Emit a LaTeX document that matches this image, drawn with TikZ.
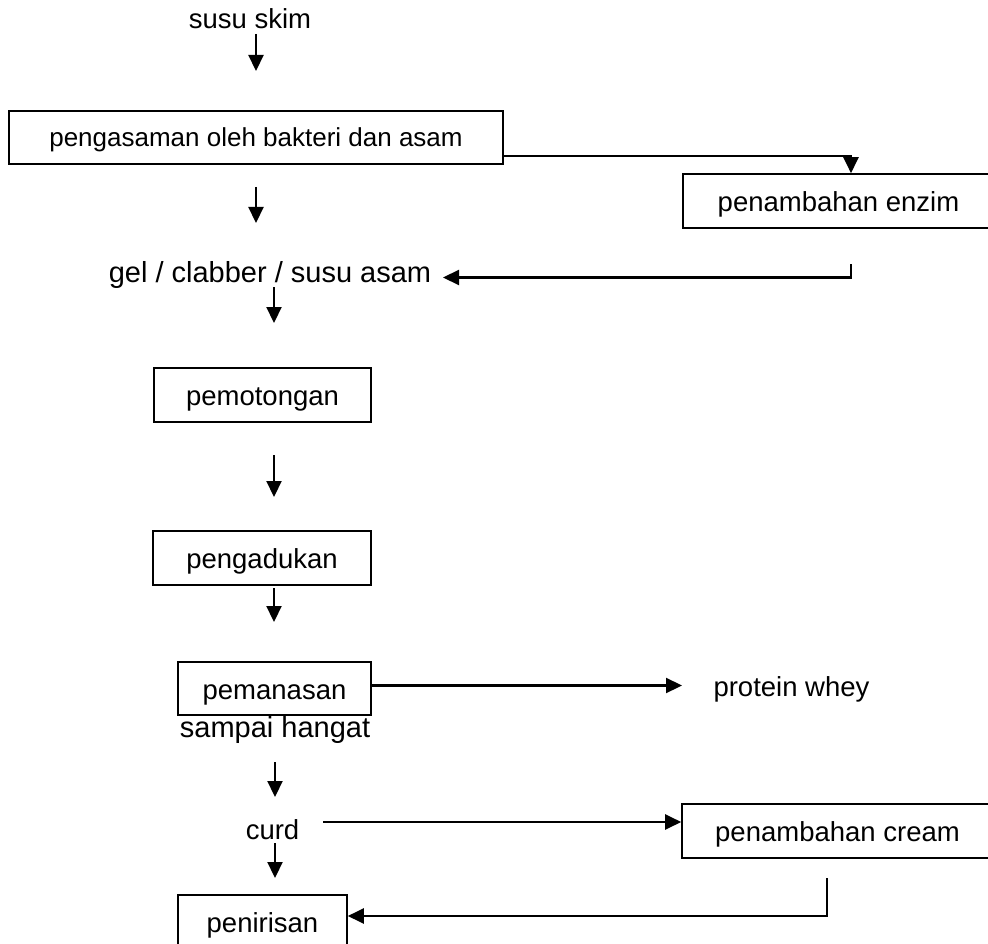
\documentclass[tikz,border=0pt]{standalone}
\usepackage{fontspec}
\setmainfont{Liberation Sans}
\usetikzlibrary{arrows.meta}
\begin{document}
\begin{tikzpicture}[x=1pt,y=-1pt,
  every node/.style={font=\fontsize{27.5}{33}\selectfont, inner sep=0pt},
  stepbox/.style={draw, line width=1.6pt, text height=25pt, text depth=3.6pt, minimum height=54},
  plain/.style={anchor=base},
  arr/.style={line width=2.2pt, -{Triangle[length=16pt,width=15pt]}},
  link/.style={line width=2.2pt}]
\useasboundingbox (0,0) rectangle (988,944);
\clip (0,0) rectangle (988,944);

% process steps
\node[plain] (skim) at (250,29) {susu skim};
\node[stepbox, minimum width=494, minimum height=53, text height=22pt, text depth=4pt,
      font=\fontsize{26}{31}\selectfont] (asam) at (256,137.5) {pengasaman oleh bakteri dan asam};
\node[stepbox, minimum width=311] (enzim) at (838.5,201) {penambahan enzim};
\node[plain, font=\fontsize{29}{35}\selectfont] (gel) at (270,282.7) {gel / clabber / susu asam};
\node[stepbox, minimum width=217] (potong) at (262.5,395) {pemotongan};
\node[stepbox, minimum width=218] (aduk) at (262,558) {pengadukan};
\node[stepbox, minimum width=193, minimum height=53] (panas) at (274.5,688.5) {pemanasan};
\node[plain, font=\fontsize{29}{35}\selectfont] (sampai) at (275,737.3) {sampai hangat};
\node[plain] (whey) at (791.5,696) {protein whey};
\node[plain] (curd) at (272.5,839) {curd};
\node[stepbox, minimum width=311] (cream) at (837.5,831) {penambahan cream};
\node[stepbox, minimum width=169] (tiris) at (262.5,922) {penirisan};

% free ends and bends of the connectors
\coordinate (a1s) at (256,34);   \coordinate (a1e) at (256,71);
\coordinate (a2s) at (256,187);  \coordinate (a2e) at (256,223);
\coordinate (a3s) at (274,287);  \coordinate (a3e) at (274,323);
\coordinate (a4s) at (274,455);  \coordinate (a4e) at (274,497);
\coordinate (a5s) at (274,588);  \coordinate (a5e) at (274,622);
\coordinate (a6s) at (275,762);  \coordinate (a6e) at (275,797);
\coordinate (a7s) at (275,843);  \coordinate (a7e) at (275,878);
\coordinate (enzTurn) at (851,156);
\coordinate (enzOut) at (851,264);
\coordinate (gelIn) at (443,277.5);
\coordinate (wheyOut) at (371,685.5);
\coordinate (wheyIn) at (682,685.5);
\coordinate (curdOut) at (323,822);
\coordinate (creamOut) at (827,878);
\coordinate (creamTurn) at (827,916);

% main flow
\draw[arr] (a1s) -- (a1e);
\draw[arr] (a2s) -- (a2e);
\draw[arr] (a3s) -- (a3e);
\draw[arr] (a4s) -- (a4e);
\draw[arr] (a5s) -- (a5e);
\draw[arr] (a6s) -- (a6e);
\draw[arr] (a7s) -- (a7e);

% side branches
\draw[arr] (asam.east |- enzTurn) -| (enzTurn |- enzim.north);
\draw[arr] (enzOut) |- (gelIn);
\draw[arr] (wheyOut) -- (wheyIn);
\draw[arr] (curdOut) -- (curdOut -| cream.west);
\draw[arr] (creamOut) -- (creamTurn) -- (creamTurn -| tiris.east);
\end{tikzpicture}
\end{document}
